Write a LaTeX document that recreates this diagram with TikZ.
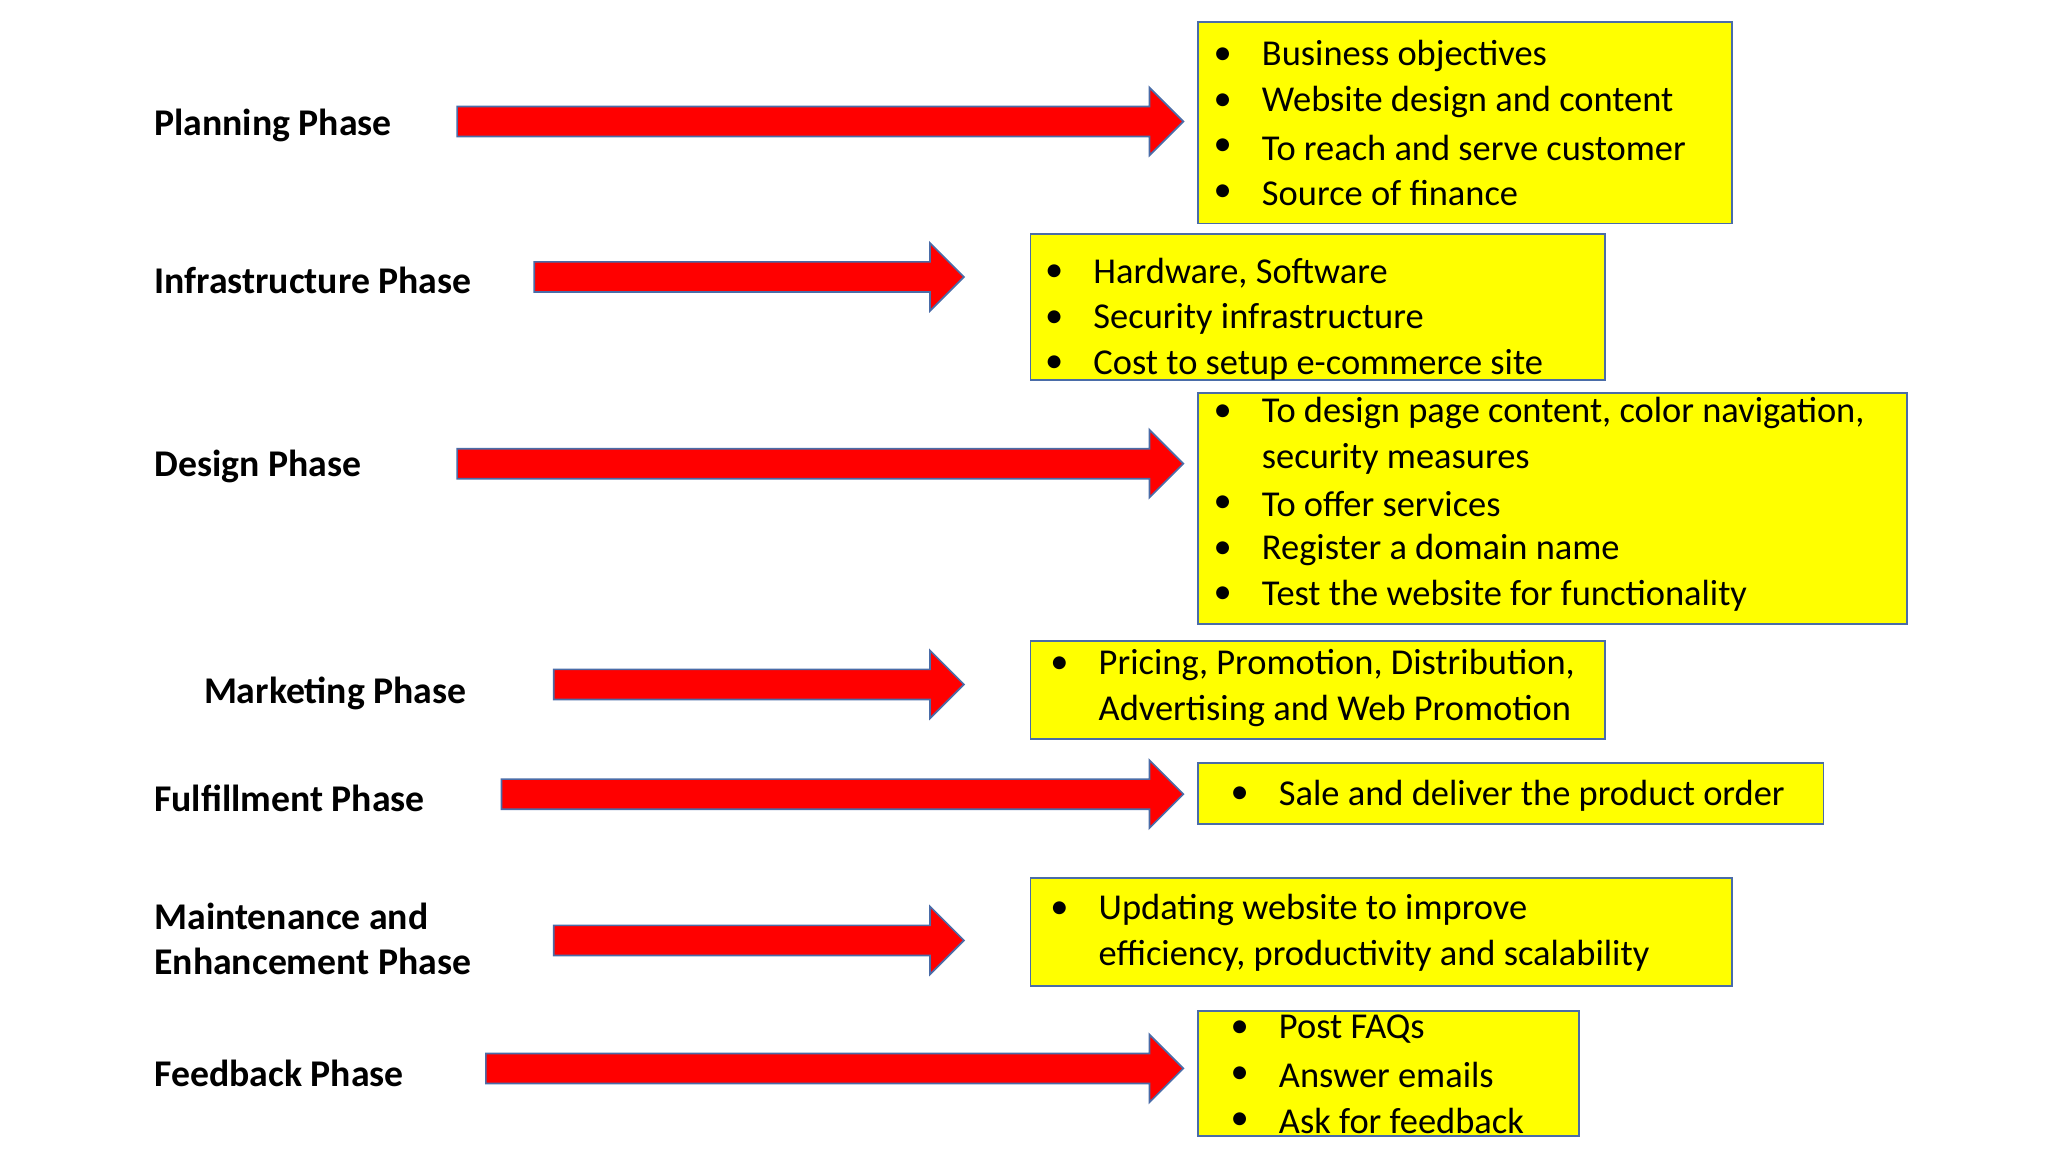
\documentclass[tikz,border=0pt]{standalone}
\usepackage{fontspec}
\setmainfont{Carlito}
\begin{document}
\begin{tikzpicture}[x=1bp,y=-1bp,
  lbl/.style={anchor=west,font=\fontsize{29}{35}\selectfont\bfseries,inner sep=0,align=left},
  txt/.style={anchor=west,font=\fontsize{28}{35}\selectfont,inner sep=0},
  bx/.style={draw=bord,fill=yel,line width=1.3bp},
  arr/.style={draw=bord,fill=red,line width=1.3bp}]
\definecolor{yel}{HTML}{FFFF00}
\definecolor{bord}{HTML}{4A6CA8}
\useasboundingbox[fill=white] (0,0) rectangle (1568,882);
\newcommand\myarrow[4]{% x0, xb, tip, y
  \path[arr] (#1,#4-11.5) -- (#2,#4-11.5) -- (#2,#4-26) -- (#3,#4) -- (#2,#4+26) -- (#2,#4+11.5) -- (#1,#4+11.5) -- cycle;}
\newcommand\bl[4]{% name, bulletx, textx, y, text via next arg
  \node[txt] at (#2,#4) {\textbullet};\node[txt] (#1) at (#3,#4)}
% labels
\node[lbl] (l1) at (118,96) {Planning Phase};
\node[lbl] (l2) at (118,215) {Infrastructure Phase};
\node[lbl] (l3) at (118,357) {Design Phase};
\node[lbl] (l4) at (156,531) {Marketing Phase};
\node[lbl] (l5) at (118,611) {Fulfillment Phase};
\node[lbl] (l6) at (118,719) {Maintenance and\\Enhancement Phase};
\node[lbl] (l7) at (118,822) {Feedback Phase};
% arrows
\myarrow{350}{880}{906}{93}
\myarrow{409}{712}{738}{212}
\myarrow{350}{880}{906}{355}
\myarrow{424}{712}{738}{524}
\myarrow{384}{880}{906}{608}
\myarrow{424}{712}{738}{720}
\myarrow{372}{880}{906}{818}
% boxes
\path[bx] (917,17) rectangle (1326,171);
\path[bx] (789,179) rectangle (1229,291);
\path[bx] (917,301) rectangle (1460,478);
\path[bx] (789,491) rectangle (1229,566);
\path[bx] (917,584) rectangle (1396,631);
\path[bx] (789,672) rectangle (1326,755);
\path[bx] (917,774) rectangle (1209,870);
% box texts
\bl{a1}{929}{966}{43}{Business objectives};
\bl{a2}{929}{966}{78}{Website design and content};
\bl{a3}{929}{966}{113}{To reach and serve customer};
\bl{a4}{929}{966}{148}{Source of finance};
\bl{b1}{800}{837}{209}{Hardware, Software};
\bl{b2}{800}{837}{244}{Security infrastructure};
\bl{b3}{800}{837}{279}{Cost to setup e-commerce site};
\bl{c1}{929}{966}{316}{To design page content, color navigation,};
\node[txt] (c1b) at (966,351) {security measures};
\bl{c2}{929}{966}{386}{To offer services};
\bl{c3}{929}{966}{421}{Register a domain name};
\bl{c4}{929}{966}{456}{Test the website for functionality};
\bl{d1}{804}{841}{509}{Pricing, Promotion, Distribution,};
\node[txt] (d1b) at (841,544) {Advertising and Web Promotion};
\bl{e1}{942}{979}{609}{Sale and deliver the product order};
\bl{f1}{804}{841}{697}{Updating website to improve};
\node[txt] (f1b) at (841,732) {efficiency, productivity and scalability};
\bl{g1}{942}{979}{788}{Post FAQs};
\bl{g2}{942}{979}{823}{Answer emails};
\bl{g3}{942}{979}{858}{Ask for feedback};
\end{tikzpicture}
\end{document}
